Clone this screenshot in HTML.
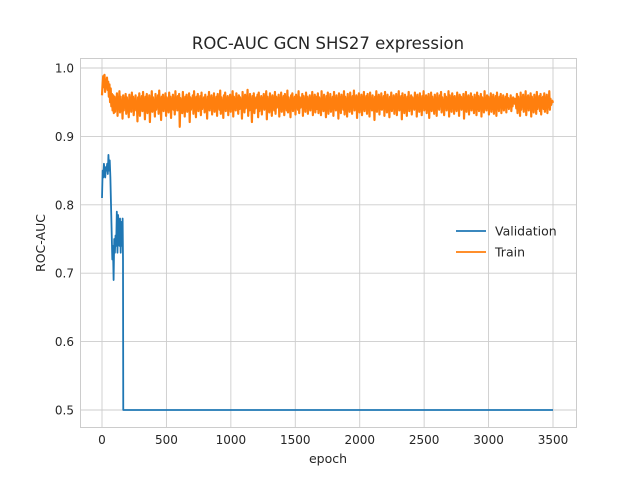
<!DOCTYPE html>
<html><head><meta charset="utf-8"><style>
body{margin:0;background:#fff;}
svg text{font-family:"DejaVu Sans","Liberation Sans",sans-serif;fill:#262626;}
</style></head><body>
<svg id="chart" width="640" height="480">
<rect x="0" y="0" width="640" height="480" fill="#fff"/>
<text x="328" y="49" font-size="16.5" text-anchor="middle">ROC-AUC GCN SHS27 expression</text>
<g id="grid"></g>
<g id="series"></g>
<rect x="80.5" y="58.5" width="496" height="369" fill="none" stroke="#ccc" stroke-width="1"/>
<g id="ticks"></g>
<text x="328" y="463" font-size="12.5" text-anchor="middle">epoch</text>
<text x="45" y="243" font-size="12.5" text-anchor="middle" transform="rotate(-90 45 243)">ROC-AUC</text>
<g>
<line x1="456" y1="231" x2="486" y2="231" stroke="#1f77b4" stroke-width="1.8"/>
<text x="495" y="235.5" font-size="12.5">Validation</text>
<line x1="456" y1="252" x2="486" y2="252" stroke="#ff7f0e" stroke-width="1.8"/>
<text x="495" y="256.5" font-size="12.5">Train</text>
</g>
</svg>
<script>
const xTicks=[0,500,1000,1500,2000,2500,3000,3500];
const yTicks=[0.5,0.6,0.7,0.8,0.9,1.0];
const yTickLabels=["0.5","0.6","0.7","0.8","0.9","1.0"];
const valEpochs=[0,5,10,15,20,25,30,35,40,45,50,55,60,65,70,75,80,85,90,95,100,105,110,115,120,125,130,135,140,145,150,155,160,163,165,3500];
const valValues=[0.81,0.85,0.84,0.86,0.85,0.84,0.855,0.85,0.86,0.845,0.873,0.85,0.865,0.84,0.80,0.76,0.72,0.74,0.69,0.75,0.73,0.755,0.74,0.79,0.73,0.785,0.76,0.74,0.78,0.73,0.775,0.74,0.78,0.72,0.5,0.5];
const trainLastEpoch=3500;
const trainValues=[
960,978,988,972,990,965,982,975,986,968,980,958,976,950,970,944,962,938,960,934,
958,936,955,944,963,930,957,941,966,935,958,942,952,926,960,938,956,944,962,933,
957,940,950,928,961,945,955,936,964,942,958,931,953,947,960,938,951,922,957,944,
963,930,952,946,959,937,965,941,950,925,958,943,962,934,955,948,960,921,953,940,
966,936,957,944,951,929,962,939,955,946,960,933,967,941,952,924,958,945,961,937,
954,943,963,930,957,948,950,935,964,941,958,927,953,946,961,939,955,932,966,944,
951,938,959,947,962,914,956,940,953,934,965,942,950,929,958,946,961,936,954,943,
963,921,957,939,951,947,960,933,966,941,955,928,958,944,962,937,952,945,959,931,
964,940,953,946,957,935,961,942,950,926,958,944,965,938,954,947,960,932,956,941,
963,936,951,945,958,930,962,943,955,939,967,933,957,946,952,927,960,941,964,937,
953,945,959,931,956,948,961,936,954,942,966,929,958,944,951,938,963,947,955,933,
960,940,957,946,952,926,965,943,958,935,961,941,954,947,968,930,956,938,962,944,
950,921,959,945,963,934,955,941,957,948,961,928,964,937,953,946,959,932,956,943,
962,939,951,947,966,925,958,941,954,935,963,944,957,930,960,946,952,938,965,933,
958,942,955,947,961,929,956,940,964,936,953,945,959,931,962,943,955,938,967,935,
957,946,952,928,960,941,963,937,955,944,958,932,961,947,954,939,966,934,957,942,
953,946,962,930,959,941,955,936,964,945,958,933,951,947,960,938,956,943,965,931,
954,944,961,935,958,940,
942,963,934,957,946,952,931,966,940,955,937,961,944,950,928,959,945,964,933,956,
941,962,936,953,947,958,930,965,943,951,938,960,946,955,926,963,940,957,934,961,
944,952,939,966,932,958,947,954,929,962,941,956,936,964,945,951,933,959,943,967,
938,955,946,960,927,957,942,963,935,953,948,961,931,958,940,965,937,952,944,959,
933,962,946,956,929,964,941,954,938,960,947,951,924,958,943,966,936,955,945,961,
932,957,940,963,939,953,946,959,930,965,942,956,935,961,944,952,928,958,947,964,
937,954,941,960,933,957,945,962,931,955,943,966,938,951,946,959,925,963,940,956,
934,961,947,953,930,958,942,965,937,955,944,960,932,957,946,952,939,964,941,958,
929,961,945,956,936,963,943,954,931,959,947,966,938,952,940,960,934,957,946,962,
927,955,942,964,937,958,944,951,933,961,947,956,930,963,941,953,939,960,945,965,
935,957,943,952,931,962,946,958,938,955,941,966,929,960,944,954,936,963,947,957,
933,959,940,952,937,964,945,956,930,961,943,958,939,955,946,962,926,953,941,965,
936,957,944,960,932,954,947,963,938,958,942,951,934,961,945,956,931,964,940,959,
937,953,946,962,929,957,943,955,935,966,941,952,938,960,947,958,932,954,944,963,
936,957,940,961,933,955,946,959,930,964,942,953,937,958,945,962,934,956,941,960,
938,954,947,958,935,962,943,956,940,953,946,960,937,955,944,957,950,948,955,951,
941,962,934,958,945,953,930,964,939,956,947,961,936,952,943,966,931,957,944,960,
938,955,946,963,929,958,942,954,935,961,947,956,933,965,940,952,944,959,937,962,
932,956,945,958,940,963,936,953,948,961,934,957,943,966,939,955,946,951,952,949
].map(v=>v/1000);

const X0=80,X1=576,Y0=58,Y1=427;
function xs(v){return 102+v*(451/3500);}
function ys(v){return 68+(1.0-v)*684;}
const NS="http://www.w3.org/2000/svg";
const grid=document.getElementById('grid'),ticks=document.getElementById('ticks'),series=document.getElementById('series');
xTicks.forEach(t=>{
  const l=document.createElementNS(NS,'line');
  l.setAttribute('x1',xs(t));l.setAttribute('x2',xs(t));l.setAttribute('y1',Y0);l.setAttribute('y2',Y1);
  l.setAttribute('stroke','#ccc');l.setAttribute('stroke-width','0.9');
  
  
  grid.appendChild(l);
  const tx=document.createElementNS(NS,'text');
  tx.setAttribute('x',xs(t));tx.setAttribute('y',444);tx.setAttribute('font-size','12');tx.setAttribute('text-anchor','middle');
  tx.textContent=String(t);
  
  
  ticks.appendChild(tx);
});
yTicks.forEach((t,i)=>{
  const l=document.createElementNS(NS,'line');
  l.setAttribute('x1',X0);l.setAttribute('x2',X1);l.setAttribute('y1',ys(t));l.setAttribute('y2',ys(t));
  l.setAttribute('stroke','#ccc');l.setAttribute('stroke-width','0.9');
  
  
  grid.appendChild(l);
  const tx=document.createElementNS(NS,'text');
  tx.setAttribute('x',74);tx.setAttribute('y',ys(t)+4.5);tx.setAttribute('font-size','12');tx.setAttribute('text-anchor','end');
  tx.textContent=yTickLabels[i];
  
  
  ticks.appendChild(tx);
});
function path(pts,color,name,w){
  const p=document.createElementNS(NS,'path');
  p.setAttribute('d','M'+pts.map(q=>q[0].toFixed(2)+','+q[1].toFixed(2)).join('L'));
  p.setAttribute('fill','none');p.setAttribute('stroke',color);p.setAttribute('stroke-width',w);p.setAttribute('stroke-linejoin','round');
  
  
  series.appendChild(p);
}
path(valEpochs.map((e,i)=>[xs(e),ys(valValues[i])]),'#1f77b4','validation-line','1.8');
const trainStep=trainLastEpoch/(trainValues.length-1);
path(trainValues.map((v,i)=>[xs(i*trainStep),ys(v)]),'#ff7f0e','train-line','2.2');
</script>
</body></html>
